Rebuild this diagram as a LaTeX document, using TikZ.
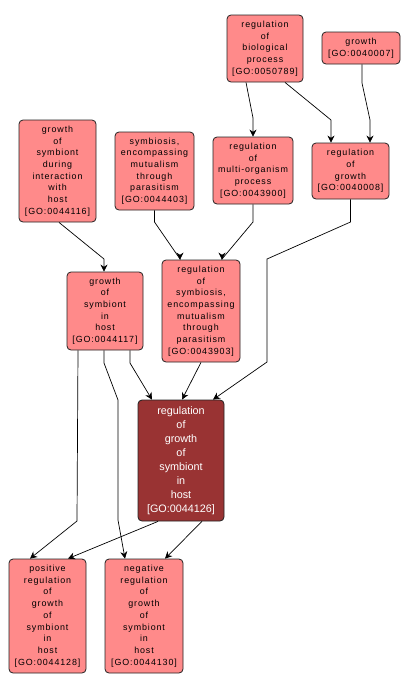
\documentclass[tikz,border=0pt]{standalone}
\usepackage{fontspec}
\setmainfont{Liberation Sans}
\newfontfamily\pinkfont[LetterSpace=10]{Liberation Sans}
\usetikzlibrary{arrows.meta}
\definecolor{pinkfill}{HTML}{FF8A8A}
\definecolor{mainfill}{HTML}{993333}
\definecolor{edgecol}{HTML}{222222}
\tikzset{
  x=1pt, y=-1pt,
  gobox/.style={draw=edgecol, line width=0.8pt, rounded corners=4pt, align=center, inner sep=0pt},
  pinkbox/.style={gobox, fill=pinkfill, font=\pinkfont\fontsize{8.9}{11.7}\selectfont, text=black},
  mainbox/.style={gobox, fill=mainfill, font=\fontsize{10.8}{14}\selectfont, text=white},
  arr/.style={draw=black, line width=0.7pt, -{Stealth[length=7pt,width=7pt]}}
}
\begin{document}
\begin{tikzpicture}
\fill[white] (0,0) rectangle (410,691);
\useasboundingbox (0,0) rectangle (410,691);

\node[pinkbox, minimum width=76pt, minimum height=67pt] (rbp) at (265,48.5) {regulation\\of\\biological\\process\\{[GO:0050789]}};
\node[pinkbox, minimum width=78pt, minimum height=32pt] (gr) at (361,48) {growth\\{[GO:0040007]}};
\node[pinkbox, minimum width=77pt, minimum height=102pt] (gsdi) at (57.5,171) {growth\\of\\symbiont\\during\\interaction\\with\\host\\{[GO:0044116]}};
\node[pinkbox, minimum width=79pt, minimum height=78pt] (sym) at (154.5,171) {symbiosis,\\encompassing\\mutualism\\through\\parasitism\\{[GO:0044403]}};
\node[pinkbox, minimum width=80pt, minimum height=67pt] (rmo) at (253,170.5) {regulation\\of\\multi-organism\\process\\{[GO:0043900]}};
\node[pinkbox, minimum width=77pt, minimum height=56pt] (rg) at (350.5,171) {regulation\\of\\growth\\{[GO:0040008]}};
\node[pinkbox, minimum width=76pt, minimum height=78pt] (gsih) at (105,311) {growth\\of\\symbiont\\in\\host\\{[GO:0044117]}};
\node[pinkbox, minimum width=78pt, minimum height=102pt] (rsym) at (201,311) {regulation\\of\\symbiosis,\\encompassing\\mutualism\\through\\parasitism\\{[GO:0043903]}};
\node[mainbox, minimum width=86pt, minimum height=121pt] (main) at (181,460.5) {regulation\\of\\growth\\of\\symbiont\\in\\host\\{[GO:0044126]}};
\node[pinkbox, minimum width=77pt, minimum height=114pt] (pos) at (47.5,616) {positive\\regulation\\of\\growth\\of\\symbiont\\in\\host\\{[GO:0044128]}};
\node[pinkbox, minimum width=78pt, minimum height=114pt] (neg) at (144,616) {negative\\regulation\\of\\growth\\of\\symbiont\\in\\host\\{[GO:0044130]}};

\draw[arr] ([xshift=-19pt]rbp.south) -- (253,118) -- (rmo.north);
\draw[arr] ([xshift=20pt]rbp.south) -- (331,120) -- ([xshift=-19.5pt]rg.north);
\draw[arr] ([xshift=1pt]gr.south) -- (362,83) -- (370,120) -- ([xshift=19.5pt]rg.north);
\draw[arr] ([xshift=1.5pt]gsdi.south) -- (104,259) -- ([xshift=-1pt]gsih.north);
\draw[arr] (sym.south) -- (154.5,222) -- (180,259) -- ([xshift=-21pt]rsym.north);
\draw[arr] (rmo.south) -- (253,222) -- (222,259) -- ([xshift=21pt]rsym.north);
\draw[arr] (rg.south) -- (350.5,222) -- (267,259) -- (267,362) -- ([xshift=32pt]main.north);
\draw[arr] ([xshift=25pt]gsih.south) -- (130,363) -- ([xshift=-29pt]main.north);
\draw[arr] (rsym.south) -- ([xshift=1pt]main.north);
\draw[arr] ([xshift=-27pt]gsih.south) -- (77,521) -- ([xshift=-17.5pt]pos.north);
\draw[arr] ([xshift=-1pt]gsih.south) -- (104,363) -- (118,400) -- (118,520) -- ([xshift=-19pt]neg.north);
\draw[arr] ([xshift=-23pt]main.south) -- ([xshift=20.5pt]pos.north);
\draw[arr] ([xshift=21pt]main.south) -- ([xshift=21pt]neg.north);
\end{tikzpicture}
\end{document}
